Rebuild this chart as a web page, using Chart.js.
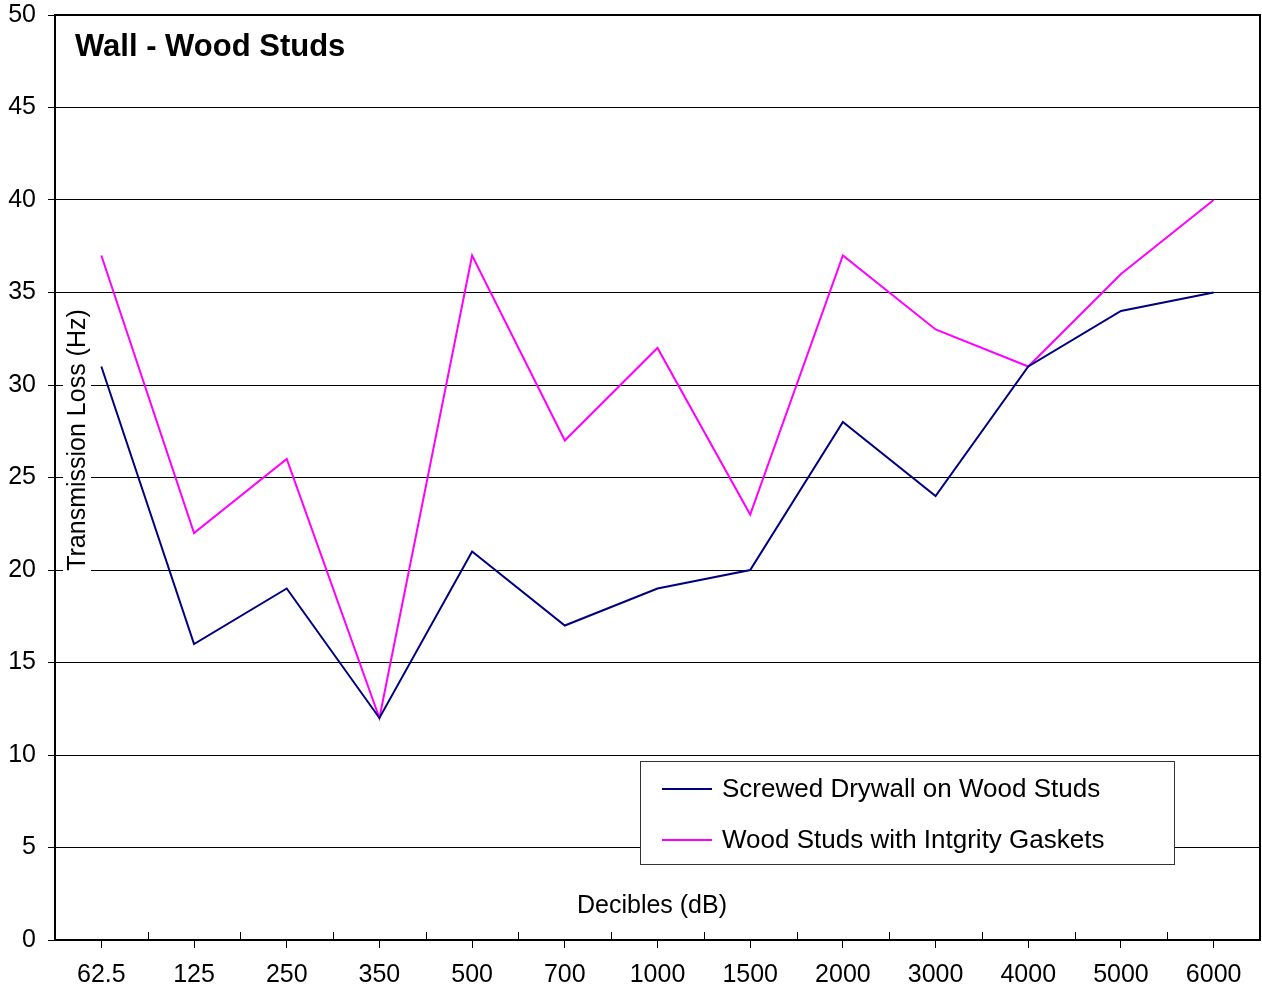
<!DOCTYPE html>
<html>
<head>
<meta charset="utf-8">
<script src="https://cdn.jsdelivr.net/npm/chart.js@4/dist/chart.umd.min.js"></script>
<style>
html,body{margin:0;padding:0;background:#fff;}
#wrap{width:1262px;height:987px;position:relative;}
</style>
</head>
<body>
<div id="wrap"><canvas id="c"></canvas></div>
<script>
const categories = ['62.5','125','250','350','500','700','1000','1500','2000','3000','4000','5000','6000'];
const drywallValues = [31,16,19,12,21,17,19,20,28,24,31,34,35];
const gasketValues = [37,22,26,12,37,27,32,23,37,33,31,36,40];
const seriesNames = ['Screwed Drywall on Wood Studs','Wood Studs with Intgrity Gaskets'];
const chartTitle = 'Wall - Wood Studs';
const yTitle = 'Transmission Loss (Hz)';
const xTitle = 'Decibles (dB)';
const yMin = 0, yMax = 50, yStep = 5;

const FONT = '"Liberation Sans", Arial, Helvetica, sans-serif';

const decor = {
  id: 'decor',
  beforeDatasetsDraw(chart) {
    const ctx = chart.ctx, a = chart.chartArea, xs = chart.scales.x;
    ctx.save();
    ctx.strokeStyle = '#000'; ctx.lineWidth = 1;
    for (let i = 1; i < categories.length; i++) {
      const x = Math.round(xs.getPixelForValue(i - 0.5)) + 0.5;
      ctx.beginPath(); ctx.moveTo(x, a.bottom); ctx.lineTo(x, a.bottom - 8); ctx.stroke();
    }
    ctx.font = '25px ' + FONT;
    ctx.textAlign = 'center'; ctx.textBaseline = 'middle';
    const tw = ctx.measureText(yTitle).width;
    ctx.translate(77, 440); ctx.rotate(-Math.PI / 2);
    ctx.fillStyle = '#fff'; ctx.fillRect(-tw / 2 - 2, -14, tw + 4, 28);
    ctx.fillStyle = '#000'; ctx.fillText(yTitle, 0, 1);
    ctx.restore();
  },
  afterDraw(chart) {
    const ctx = chart.ctx, a = chart.chartArea;
    ctx.save();
    ctx.strokeStyle = '#000'; ctx.lineWidth = 2;
    ctx.strokeRect(a.left, a.top, a.right - a.left, a.bottom - a.top);
    ctx.fillStyle = '#000';
    ctx.font = 'bold 31px ' + FONT;
    ctx.textAlign = 'left'; ctx.textBaseline = 'middle';
    ctx.fillText(chartTitle, 75, 47);
    ctx.font = '25px ' + FONT;
    ctx.textAlign = 'center';
    ctx.fillText(xTitle, 652, 906);
    ctx.fillStyle = '#fff';
    ctx.fillRect(640, 761, 534, 103);
    ctx.strokeStyle = '#333'; ctx.lineWidth = 1;
    ctx.strokeRect(640.5, 761.5, 534, 103);
    chart.data.datasets.forEach((ds, i) => {
      const y = 789 + i * 51;
      ctx.strokeStyle = ds.borderColor; ctx.lineWidth = 2;
      ctx.beginPath(); ctx.moveTo(662, y); ctx.lineTo(712, y); ctx.stroke();
      ctx.fillStyle = '#000'; ctx.font = '26px ' + FONT;
      ctx.textAlign = 'left'; ctx.textBaseline = 'middle';
      ctx.fillText(ds.label, 722, y + 1);
    });
    ctx.restore();
  }
};

new Chart(document.getElementById('c'), {
  type: 'line',
  data: {
    labels: categories,
    datasets: [
      { label: seriesNames[0], data: drywallValues, borderColor: '#000080', borderWidth: 2, pointRadius: 0, tension: 0, fill: false },
      { label: seriesNames[1], data: gasketValues, borderColor: '#FF00FF', borderWidth: 2, pointRadius: 0, tension: 0, fill: false }
    ]
  },
  options: {
    responsive: true,
    maintainAspectRatio: false,
    animation: false,
    events: [],
    layout: { padding: { left: 0, right: 2, top: 15, bottom: 0 } },
    plugins: { legend: { display: false }, title: { display: false }, tooltip: { enabled: false } },
    scales: {
      x: {
        type: 'category',
        offset: true,
        grid: { display: true, drawOnChartArea: false, offset: false, tickLength: 8, color: '#000', lineWidth: 1 },
        border: { display: true, color: '#000', width: 2 },
        ticks: { color: '#000', font: { size: 25, family: FONT }, padding: 12, maxRotation: 0, autoSkip: false },
        afterFit(s) { s.height = 47; s.paddingLeft = 0; s.paddingRight = 0; }
      },
      y: {
        min: yMin, max: yMax,
        grid: { color: '#000', lineWidth: 1, tickLength: 7, drawTicks: true },
        border: { display: true, color: '#000', width: 2 },
        ticks: { stepSize: yStep, color: '#000', font: { size: 25, family: FONT }, padding: 12 },
        afterFit(s) { s.width = 55; s.paddingTop = 0; s.paddingBottom = 0; }
      }
    }
  },
  plugins: [decor]
});
</script>
</body>
</html>
